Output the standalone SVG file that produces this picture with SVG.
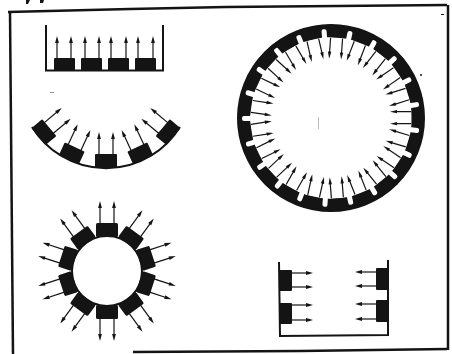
<svg xmlns="http://www.w3.org/2000/svg" width="452" height="354" viewBox="0 0 452 354">
<style>
.k{fill:#141414}
.w{fill:#fff}
.l{fill:none;stroke:#141414;stroke-width:2}
.a{fill:none;stroke:#141414;stroke-width:1.2}
.f{fill:none;stroke:#141414;stroke-width:2.5}
</style>
<defs>
<g id="up"><path class="a" d="M0 0V-18"/><path class="k" d="M0-23L1.900-16H-1.900Z"/></g>
<g id="rt"><path class="a" d="M0 0H18"/><path class="k" d="M21 0L14-1.900V1.900Z"/></g>
<g id="lf"><path class="a" d="M0 0H-18"/><path class="k" d="M-21 0L-14-1.900V1.900Z"/></g>
<g id="big">
<rect class="k" x="-10.500" y="-93" width="21" height="12.500"/>
<path class="a" d="M-6-80V-64"/><path class="k" d="M-6-59L-7.700-66H-4.300Z"/>
<path class="a" d="M6-80V-64"/><path class="k" d="M6-59L4.300-66H7.700Z"/>
</g>
<rect id="notch" class="w" x="-2.500" y="-89" width="5" height="10" rx="2"/>
<g id="sm">
<rect class="k" x="-11" y="-48" width="22" height="14" rx="1.500"/>
<use href="#up" x="-7" y="-47"/><use href="#up" x="7" y="-47"/>
</g>
<g id="arc">
<rect class="k" x="-11" y="74" width="22" height="14" rx="1"/>
<use href="#up" x="-7" y="75"/><use href="#up" x="7" y="75"/>
</g>
</defs>

<g id="frame">
<path class="f" d="M8 12L130 9L226 7L447 5"/>
<path class="f" d="M10 12L13 354"/>
<path class="f" d="M448 5L448 350"/>
<path class="f" d="M133 352L300 351L447 349"/>
<path class="k" d="M26 0H30L28 4H26ZM40 0H44L43 3H40Z"/>
<circle class="k" cx="421" cy="75" r="1"/>
<rect class="k" x="441" y="14" width="3" height="1"/>
<rect x="318" y="117" width="1" height="12" fill="#bbb"/>
<rect x="50" y="92" width="4" height="1" fill="#999"/>
</g>

<g id="tray-top">
<path class="l" d="M46 25V70.500H163V25"/>
<rect class="k" x="54" y="58" width="21" height="13" rx="1"/>
<rect class="k" x="81" y="58" width="21" height="13" rx="1"/>
<rect class="k" x="108" y="58" width="21" height="13" rx="1"/>
<rect class="k" x="135" y="58" width="21" height="13" rx="1"/>
<use href="#up" x="57" y="59"/><use href="#up" x="71" y="59"/>
<use href="#up" x="85" y="59"/><use href="#up" x="99" y="59"/>
<use href="#up" x="111" y="59"/><use href="#up" x="126" y="59"/>
<use href="#up" x="138" y="59"/><use href="#up" x="153" y="59"/>
</g>

<g id="arc-dish" transform="translate(106 80)">
<path class="l" d="M-74 47A87 87 0 0 0 74 47"/>
<use href="#arc" transform="rotate(50)"/>
<use href="#arc" transform="rotate(25)"/>
<use href="#arc"/>
<use href="#arc" transform="rotate(-25)"/>
<use href="#arc" transform="rotate(-50)"/>
</g>

<g id="ring-small" transform="translate(107 271)">
<circle class="l" r="35"/>
<use href="#sm"/>
<use href="#sm" transform="rotate(36)"/>
<use href="#sm" transform="rotate(72)"/>
<use href="#sm" transform="rotate(108)"/>
<use href="#sm" transform="rotate(144)"/>
<use href="#sm" transform="rotate(180)"/>
<use href="#sm" transform="rotate(216)"/>
<use href="#sm" transform="rotate(252)"/>
<use href="#sm" transform="rotate(288)"/>
<use href="#sm" transform="rotate(324)"/>
</g>

<g id="ring-big" transform="translate(331 118)">
<circle r="87.500" fill="none" stroke="#141414" stroke-width="13"/>
<use href="#big" transform="rotate(4)"/>
<use href="#big" transform="rotate(21.140)"/>
<use href="#big" transform="rotate(38.290)"/>
<use href="#big" transform="rotate(55.430)"/>
<use href="#big" transform="rotate(72.570)"/>
<use href="#big" transform="rotate(89.710)"/>
<use href="#big" transform="rotate(106.860)"/>
<use href="#big" transform="rotate(124)"/>
<use href="#big" transform="rotate(141.140)"/>
<use href="#big" transform="rotate(158.290)"/>
<use href="#big" transform="rotate(175.430)"/>
<use href="#big" transform="rotate(192.570)"/>
<use href="#big" transform="rotate(209.710)"/>
<use href="#big" transform="rotate(226.860)"/>
<use href="#big" transform="rotate(244)"/>
<use href="#big" transform="rotate(261.140)"/>
<use href="#big" transform="rotate(278.290)"/>
<use href="#big" transform="rotate(295.430)"/>
<use href="#big" transform="rotate(312.570)"/>
<use href="#big" transform="rotate(329.710)"/>
<use href="#big" transform="rotate(346.860)"/>
<use href="#notch" transform="rotate(12.570)"/>
<use href="#notch" transform="rotate(29.710)"/>
<use href="#notch" transform="rotate(46.860)"/>
<use href="#notch" transform="rotate(64)"/>
<use href="#notch" transform="rotate(81.140)"/>
<use href="#notch" transform="rotate(98.290)"/>
<use href="#notch" transform="rotate(115.430)"/>
<use href="#notch" transform="rotate(132.570)"/>
<use href="#notch" transform="rotate(149.710)"/>
<use href="#notch" transform="rotate(166.860)"/>
<use href="#notch" transform="rotate(184)"/>
<use href="#notch" transform="rotate(201.140)"/>
<use href="#notch" transform="rotate(218.290)"/>
<use href="#notch" transform="rotate(235.430)"/>
<use href="#notch" transform="rotate(252.570)"/>
<use href="#notch" transform="rotate(269.710)"/>
<use href="#notch" transform="rotate(286.860)"/>
<use href="#notch" transform="rotate(304)"/>
<use href="#notch" transform="rotate(321.140)"/>
<use href="#notch" transform="rotate(338.290)"/>
<use href="#notch" transform="rotate(355.430)"/>
</g>

<g id="tray-bottom">
<path class="l" d="M279 262L280 336L388 335V260"/>
<rect class="k" x="279" y="270" width="13" height="21" rx="1"/>
<rect class="k" x="279" y="303" width="13" height="21" rx="1"/>
<rect class="k" x="376" y="268" width="13" height="22" rx="1"/>
<rect class="k" x="376" y="300" width="13" height="22" rx="1"/>
<use href="#rt" x="292" y="273"/><use href="#rt" x="292" y="287"/>
<use href="#rt" x="292" y="305"/><use href="#rt" x="292" y="320"/>
<use href="#lf" x="376" y="272"/><use href="#lf" x="376" y="286"/>
<use href="#lf" x="376" y="304"/><use href="#lf" x="376" y="319"/>
</g>
</svg>
